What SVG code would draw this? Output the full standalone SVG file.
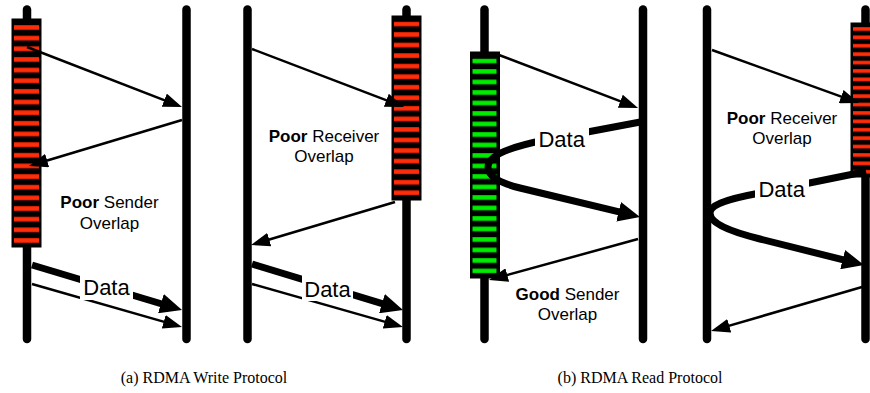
<svg xmlns="http://www.w3.org/2000/svg" width="870" height="393" viewBox="0 0 870 393">
  <defs>
    <style>
      .tl{stroke:#000;stroke-width:8.5;stroke-linecap:round;fill:none}
      .busy{fill:#000;stroke:#000;stroke-width:1}
      .msg{stroke:#000;stroke-width:2.5;fill:none;marker-end:url(#headThin)}
      .data{stroke:#000;stroke-width:7;fill:none;marker-end:url(#headThick)}
      .mask{fill:#fff}
      .lbl{font-family:"Liberation Sans",Arial,Helvetica,sans-serif;font-size:17px;text-anchor:middle;fill:#000}
      .b{font-weight:bold}
      .dl{font-family:"Liberation Sans",Arial,Helvetica,sans-serif;font-size:22px;text-anchor:middle;fill:#000}
      .cap{font-family:"Liberation Serif","Times New Roman",serif;font-size:16px;text-anchor:middle;fill:#000}
    </style>
    <linearGradient id="redG" x1="0" y1="0" x2="0" y2="1">
      <stop offset="0" stop-color="#c41e00"/>
      <stop offset="0.3" stop-color="#ff2d0a"/>
      <stop offset="0.7" stop-color="#ff2d0a"/>
      <stop offset="1" stop-color="#c41e00"/>
    </linearGradient>
    <linearGradient id="greenG" x1="0" y1="0" x2="0" y2="1">
      <stop offset="0" stop-color="#00b000"/>
      <stop offset="0.3" stop-color="#00ee00"/>
      <stop offset="0.7" stop-color="#00ee00"/>
      <stop offset="1" stop-color="#00b000"/>
    </linearGradient>
    <pattern id="stripeA" patternUnits="userSpaceOnUse" x="14" y="25" width="25" height="10.65">
      <rect width="25" height="5" fill="url(#redG)"/>
    </pattern>
    <pattern id="stripeB" patternUnits="userSpaceOnUse" x="394" y="21.5" width="25" height="10.55">
      <rect width="25" height="5" fill="url(#redG)"/>
    </pattern>
    <pattern id="stripeC" patternUnits="userSpaceOnUse" x="472.5" y="58.5" width="24" height="10.5">
      <rect width="24" height="5" fill="url(#greenG)"/>
    </pattern>
    <pattern id="stripeD" patternUnits="userSpaceOnUse" x="853" y="27" width="25" height="8.4">
      <rect width="25" height="4" fill="url(#redG)"/>
    </pattern>
    <marker id="headThin" markerUnits="userSpaceOnUse" viewBox="0 0 19 14" markerWidth="19" markerHeight="14" refX="6" refY="7" orient="auto">
      <path d="M0,0 L19,7 L0,14 Z" fill="#000"/>
    </marker>
    <marker id="headThick" markerUnits="userSpaceOnUse" viewBox="0 0 22 20" markerWidth="22" markerHeight="20" refX="8" refY="10" orient="auto">
      <path d="M0,0 L22,10 L0,20 Z" fill="#000"/>
    </marker>
  </defs>

  <rect width="870" height="393" fill="#fff"/>

  <!-- (a) RDMA Write: sender / receiver timelines -->
  <g id="write-sender">
    <line class="tl" x1="27" y1="9.5" x2="27" y2="339"/>
    <rect class="busy" x="12" y="19" width="29" height="228"/>
    <rect x="14" y="25" width="25" height="218" fill="url(#stripeA)"/>
  </g>
  <g id="write-receiver">
    <line class="tl" x1="186.5" y1="9.5" x2="186.5" y2="339"/>
  </g>
  <g id="write-note-a">
    <text class="lbl" x="109.5" y="208"><tspan class="b">Poor</tspan> Sender</text>
    <text class="lbl" x="109.5" y="229">Overlap</text>
  </g>

  <g id="write-sender-2">
    <line class="tl" x1="247.5" y1="9.5" x2="247.5" y2="339"/>
  </g>
  <g id="write-receiver-2">
    <line class="tl" x1="406.5" y1="9.5" x2="406.5" y2="339"/>
    <rect class="busy" x="392" y="16" width="29" height="184"/>
    <rect x="394" y="21.5" width="25" height="174" fill="url(#stripeB)"/>
  </g>
  <g id="write-note-b">
    <text class="lbl" x="324" y="142"><tspan class="b">Poor</tspan> Receiver</text>
    <text class="lbl" x="324" y="162">Overlap</text>
  </g>

  <!-- (b) RDMA Read: sender / receiver timelines -->
  <g id="read-sender">
    <line class="tl" x1="484.5" y1="9.5" x2="484.5" y2="339"/>
    <rect class="busy" x="470.5" y="52" width="29" height="226"/>
    <rect x="472.5" y="58.5" width="24" height="215" fill="url(#stripeC)"/>
  </g>
  <g id="read-receiver">
    <line class="tl" x1="643" y1="9.5" x2="643" y2="339"/>
  </g>
  <g id="read-note-a">
    <text class="lbl" x="567.5" y="300"><tspan class="b">Good</tspan> Sender</text>
    <text class="lbl" x="567.5" y="320">Overlap</text>
  </g>

  <g id="read-sender-2">
    <line class="tl" x1="707" y1="9.5" x2="707" y2="339"/>
  </g>
  <g id="read-receiver-2">
    <line class="tl" x1="865.5" y1="9.5" x2="865.5" y2="339"/>
    <rect class="busy" x="851" y="23" width="29" height="154"/>
    <rect x="853" y="27" width="25" height="147" fill="url(#stripeD)"/>
  </g>
  <g id="read-note-b">
    <text class="lbl" x="782" y="124"><tspan class="b">Poor</tspan> Receiver</text>
    <text class="lbl" x="782" y="144">Overlap</text>
  </g>

  <!-- connectors -->
  <g id="connectors">
    <line class="msg" x1="27" y1="47" x2="169.9" y2="102.3"/>
    <line class="msg" x1="182" y1="120" x2="41.4" y2="162.3"/>
    <line class="data" x1="32" y1="265" x2="168.6" y2="306"/>
    <line class="msg" x1="32" y1="284" x2="169.5" y2="323.4"/>

    <line class="msg" x1="252" y1="49" x2="391.9" y2="102.4"/>
    <line class="msg" x1="395" y1="202" x2="263.5" y2="241.3"/>
    <line class="data" x1="252" y1="264" x2="389.6" y2="305.9"/>
    <line class="msg" x1="252" y1="284" x2="390.5" y2="323.4"/>

    <line class="msg" x1="499" y1="55" x2="625.9" y2="103.4"/>
    <path class="data" d="M643,121.5 L545,140 C505,148 488,157 488,167 C488,177 500,183 520,188 L626.4,213.7"/>
    <line class="msg" x1="638" y1="239" x2="501.5" y2="276.6"/>

    <line class="msg" x1="712" y1="50" x2="846.8" y2="98.6"/>
    <path class="data" d="M866,171.5 L760,193 C722,200 710,206 710,213 C710,222 724,230 760,239 L850.4,261.6"/>
    <line class="msg" x1="862" y1="287" x2="723.5" y2="327.4"/>
  </g>

  <!-- connector labels -->
  <g id="data-labels">
    <rect class="mask" x="80" y="274" width="53" height="26"/>
    <text class="dl" x="106.5" y="295">Data</text>
    <rect class="mask" x="302" y="274" width="51" height="27"/>
    <text class="dl" x="327.5" y="296.5">Data</text>
    <rect class="mask" x="535" y="126" width="54" height="26"/>
    <text class="dl" x="561.7" y="147">Data</text>
    <rect class="mask" x="755" y="176" width="54" height="26"/>
    <text class="dl" x="781.7" y="197">Data</text>
  </g>

  <g id="captions">
    <text class="cap" x="204" y="383">(a) RDMA Write Protocol</text>
    <text class="cap" x="640" y="383">(b) RDMA Read Protocol</text>
  </g>
</svg>
